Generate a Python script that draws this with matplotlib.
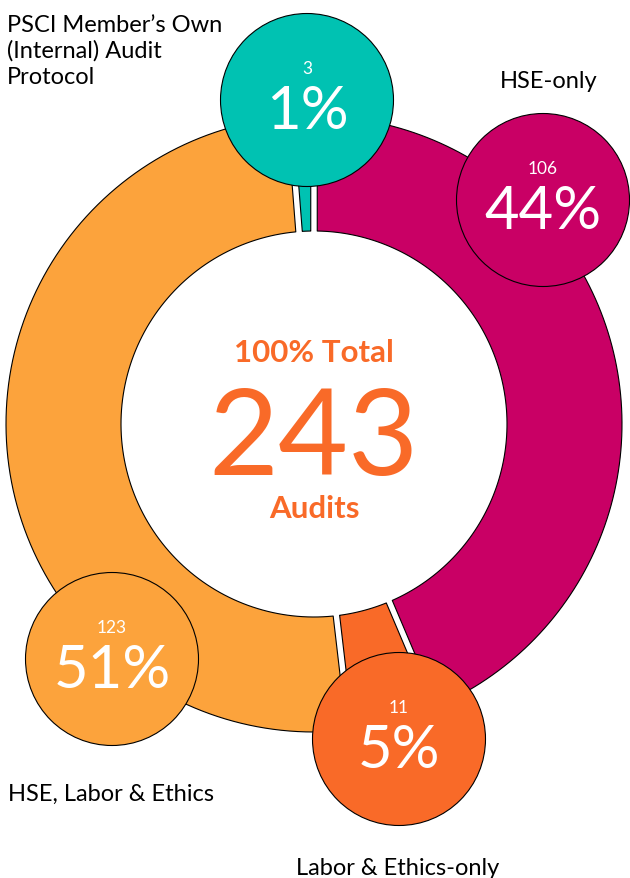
import numpy as np
import matplotlib.pyplot as plt
from matplotlib.patches import Polygon, Circle

# data
categories = ["HSE-only", "Labor & Ethics-only", "HSE, Labor & Ethics",
              "PSCI Member’s Own\n(Internal) Audit\nProtocol"]
counts = [106, 11, 123, 3]
colors = ["#C90065", "#F96A28", "#FCA33C", "#00C2B2"]

total = sum(counts)
orange_txt = "#F96A28"

# layout (pixel coords, y down)
W, H = 630, 879
cx, cy = 314, 425
r_out, r_in = 308, 193
gap = 6.5
bubble_r = 86.5
bubble_xy = [(543, 201), (399, 740), (112, 660), (307, 101)]
label_xy = [(500, 88), (296, 875), (8, 801), (7, 32)]
line_step = 26

fig = plt.figure(figsize=(W / 100, H / 100), dpi=100)
ax = fig.add_axes([0, 0, 1, 1])
ax.set_xlim(0, W)
ax.set_ylim(H, 0)
ax.axis("off")


def arc(r, t1, t2, n=120):
    t = np.linspace(t1, t2, n)
    return np.column_stack([cx + r * np.sin(t), cy - r * np.cos(t)])


# ring slices, clockwise from top, with parallel gaps
start = 0.0
for c, col in zip(counts, colors):
    span = 2 * np.pi * c / total
    t1, t2 = start, start + span
    do = np.arcsin(gap / 2 / r_out)
    di = np.arcsin(gap / 2 / r_in)
    pts = np.vstack([arc(r_out, t1 + do, t2 - do), arc(r_in, t2 - di, t1 + di)])
    ax.add_patch(Polygon(pts, closed=True, facecolor=col, edgecolor="black",
                         linewidth=0.8, joinstyle="round", zorder=2))
    start = t2

# bubbles
for c, col, (bx, by) in zip(counts, colors, bubble_xy):
    ax.add_patch(Circle((bx, by), bubble_r, facecolor=col, edgecolor="black",
                        linewidth=0.8, zorder=3))
    pct = int(round(100 * c / total))
    ax.text(bx, by - 27, str(c), color="white", fontsize=12.5, family="Lato",
            ha="center", va="baseline", zorder=4)
    ax.text(bx, by + 28, f"{pct}%", color="white", fontsize=43, family="Lato",
            ha="center", va="baseline", zorder=4)

# category labels (one text per line)
for name, (lx, ly) in zip(categories, label_xy):
    for i, line in enumerate(name.split("\n")):
        ax.text(lx, ly + i * line_step, line, color="black", fontsize=17,
                family="Lato", ha="left", va="baseline", zorder=4)

# center text
ax.text(cx, 362, "100% Total", color=orange_txt, fontsize=22.5, fontweight="bold",
        family="Lato", ha="center", va="baseline")
ax.text(cx, 475, str(total), color=orange_txt, fontsize=87, family="Lato",
        ha="center", va="baseline")
ax.text(cx, 518, "Audits", color=orange_txt, fontsize=22.5, fontweight="bold",
        family="Lato", ha="center", va="baseline")

fig.savefig("out.png", dpi=100, facecolor="white")
